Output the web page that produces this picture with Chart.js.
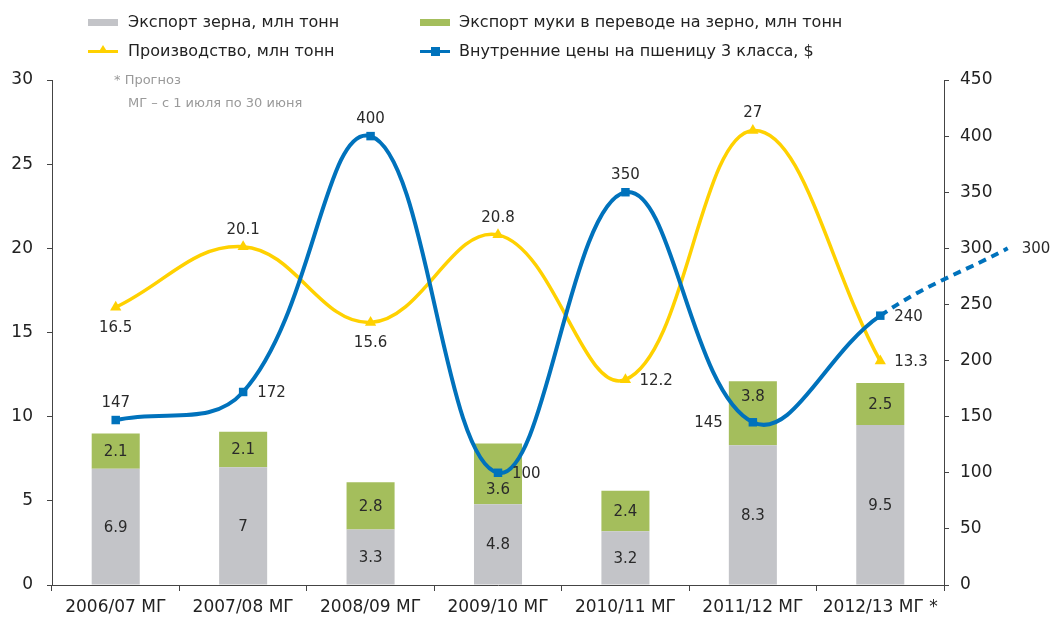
<!DOCTYPE html>
<html>
<head>
<meta charset="utf-8">
<script src="https://cdn.jsdelivr.net/npm/chart.js@4/dist/chart.umd.min.js"></script>
<style>
  body { margin: 0; background: #fff; }
  #wrap { position: relative; width: 1051px; height: 619px; font-family: "DejaVu Sans", sans-serif; }
  .lg { position: absolute; font-size: 16px; color: #222; white-space: nowrap; line-height: 20px; }
  .sw { position: absolute; width: 30px; }
  .note { position: absolute; font-size: 13px; color: #9a9a9a; white-space: nowrap; line-height: 16px; }
  .mk { position: absolute; }
</style>
</head>
<body>
<div id="wrap">
  <canvas id="myChart"></canvas>

  <!-- legend -->
  <div class="sw" style="left:88px;top:19px;height:7px;background:#c3c4c8"></div>
  <div class="lg" style="left:128px;top:12px">Экспорт зерна, млн тонн</div>
  <div class="sw" style="left:420px;top:19px;height:7px;background:#a4be5c"></div>
  <div class="lg" style="left:459px;top:12px">Экспорт муки в переводе на зерно, млн тонн</div>

  <div class="sw" style="left:88px;top:50px;height:3px;background:#ffd100"></div>
  <div class="mk" style="left:98px;top:45px;width:0;height:0;border-left:5px solid transparent;border-right:5px solid transparent;border-bottom:8px solid #ffd100"></div>
  <div class="lg" style="left:128px;top:41px">Производство, млн тонн</div>
  <div class="sw" style="left:420px;top:50px;height:3px;background:#0072bc"></div>
  <div class="mk" style="left:431px;top:47px;width:9px;height:9px;background:#0072bc"></div>
  <div class="lg" style="left:459px;top:41px">Внутренние цены на пшеницу 3 класса, $</div>

  <div class="note" style="left:114px;top:72px">* Прогноз</div>
  <div class="note" style="left:128px;top:95px">МГ – с 1 июля по 30 июня</div>
</div>

<script>
// categories
const seasons = ['2006/07 МГ', '2007/08 МГ', '2008/09 МГ', '2009/10 МГ', '2010/11 МГ', '2011/12 МГ', '2012/13 МГ *'];

// bars, mln t
const grainExport = [6.9, 7, 3.3, 4.8, 3.2, 8.3, 9.5];
const flourExport = [2.1, 2.1, 2.8, 3.6, 2.4, 3.8, 2.5];

// lines
const production = [16.5, 20.1, 15.6, 20.8, 12.2, 27, 13.3];
const wheatPrice = [147, 172, 400, 100, 350, 145, 240, 300]; // last one is the forecast point past the axis

// ticks
const leftTicks = [0, 5, 10, 15, 20, 25, 30];
const rightTicks = [0, 50, 100, 150, 200, 250, 300, 350, 400, 450];

const fontFam = '"DejaVu Sans", sans-serif';

// label placement (style, not data)
const prodLabelPos = ['below', 'above', 'below', 'above', 'right', 'above', 'right'];
const priceLabelPos = ['above', 'right', 'above', 'right', 'above', 'left', 'right', 'right'];
const flourLabelShift = [0, 0, 0, 15, 0, -17, 0]; // px, moved off the blue line

const pts = arr => arr.map((v, i) => ({ x: i, y: v }));

// draws the numbers next to bars and points
const valueLabels = {
  id: 'valueLabels',
  afterDatasetsDraw(chart) {
    const ctx = chart.ctx;
    ctx.save();
    ctx.font = '15px ' + fontFam;
    ctx.fillStyle = '#2a2a2a';
    ctx.textBaseline = 'middle';
    chart.data.datasets.forEach((ds, di) => {
      const meta = chart.getDatasetMeta(di);
      meta.data.forEach((el, i) => {
        const raw = ds.data[i];
        const v = typeof raw === 'object' ? raw.y : raw;
        const txt = String(v);
        if (ds.type === 'bar') {
          const shift = ds.labelShift ? ds.labelShift[i] : 0;
          ctx.textAlign = 'center';
          ctx.fillText(txt, el.x, (el.y + el.base) / 2 + 1 + shift);
          return;
        }
        const pos = ds.labelPos[i];
        let x = el.x, y = el.y;
        if (pos === 'above') { ctx.textAlign = 'center'; y -= 17; }
        else if (pos === 'below') { ctx.textAlign = 'center'; y += 21; }
        else if (pos === 'right') { ctx.textAlign = 'left'; x += 14; y += 1; }
        else { ctx.textAlign = 'right'; x -= 30; y += 1; }
        ctx.fillText(txt, x, y);
      });
    });
    ctx.restore();
  }
};

const data = {
  labels: seasons,
  datasets: [
    {
      type: 'line',
      label: 'Внутренние цены на пшеницу 3 класса, $',
      data: pts(wheatPrice),
      xAxisID: 'x2',
      yAxisID: 'y1',
      borderColor: '#0072bc',
      backgroundColor: '#0072bc',
      borderWidth: 4,
      tension: 0.4,
      pointStyle: 'rect',
      pointRadius: 6,
      pointBorderWidth: 0,
      clip: false,
      order: 0,
      labelPos: priceLabelPos,
      segment: {
        borderDash: c => c.p0DataIndex === 6 ? [8, 6] : undefined
      }
    },
    {
      type: 'line',
      label: 'Производство, млн тонн',
      data: pts(production),
      xAxisID: 'x2',
      yAxisID: 'y',
      borderColor: '#ffd100',
      backgroundColor: '#ffd100',
      borderWidth: 3.5,
      tension: 0.4,
      pointStyle: 'triangle',
      pointRadius: 6.5,
      pointBorderWidth: 0,
      order: 1,
      labelPos: prodLabelPos
    },
    {
      type: 'bar',
      label: 'Экспорт зерна, млн тонн',
      data: grainExport,
      xAxisID: 'x',
      yAxisID: 'y',
      backgroundColor: '#c3c4c8',
      grouped: false,
      categoryPercentage: 0.377,
      barPercentage: 1,
      order: 2
    },
    {
      type: 'bar',
      label: 'Экспорт муки в переводе на зерно, млн тонн',
      data: flourExport,
      xAxisID: 'x',
      yAxisID: 'y',
      backgroundColor: '#a4be5c',
      grouped: false,
      categoryPercentage: 0.377,
      barPercentage: 1,
      order: 2,
      labelShift: flourLabelShift
    }
  ]
};

const axisCol = '#444';

const config = {
  data: data,
  plugins: [valueLabels],
  options: {
    responsive: true,
    maintainAspectRatio: false,
    animation: false,
    devicePixelRatio: 1,
    layout: { padding: { top: 80, left: 0, right: 0, bottom: 0 } },
    plugins: { legend: { display: false }, tooltip: { enabled: false } },
    scales: {
      x: {
        type: 'category',
        stacked: true,
        offset: true,
        grid: { offset: true, drawOnChartArea: false, drawTicks: true, tickLength: 6, color: axisCol },
        border: { color: axisCol, width: 1 },
        ticks: { font: { family: fontFam, size: 17 }, color: '#222', padding: 6, maxRotation: 0, autoSkip: false },
        afterFit: s => { s.height = 34; }
      },
      x2: { type: 'linear', display: false, min: -0.5, max: 6.5 },
      y: {
        position: 'left',
        stacked: true,
        min: 0, max: 30,
        afterBuildTicks: s => { s.ticks = leftTicks.map(v => ({ value: v })); },
        grid: { drawOnChartArea: false, tickLength: 5, color: axisCol },
        border: { color: axisCol, width: 1 },
        ticks: { font: { family: fontFam, size: 17 }, color: '#222', padding: 14 },
        afterFit: s => { s.width = 52; }
      },
      y1: {
        position: 'right',
        min: 0, max: 450,
        afterBuildTicks: s => { s.ticks = rightTicks.map(v => ({ value: v })); },
        grid: { drawOnChartArea: false, tickLength: 5, color: axisCol },
        border: { color: axisCol, width: 1 },
        ticks: { font: { family: fontFam, size: 17 }, color: '#222', padding: 11 },
        afterFit: s => { s.width = 107; }
      }
    }
  }
};

const myChart = new Chart(document.getElementById('myChart'), config);
</script>
</body>
</html>
